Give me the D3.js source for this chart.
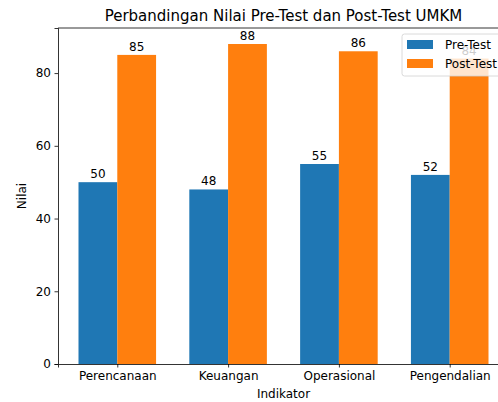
<!DOCTYPE html>
<html>
<head>
<meta charset="utf-8">
<script src="https://cdn.jsdelivr.net/npm/d3@7"></script>
<style>
  body { margin: 0; background: #fff; }
  svg { display: block; font-family: "DejaVu Sans", sans-serif; }
</style>
</head>
<body>
<div id="chart"></div>
<script>
const categories = ["Perencanaan", "Keuangan", "Operasional", "Pengendalian"];
const preTest = [50, 48, 55, 52];
const postTest = [85, 88, 86, 84];
const yTicks = [0, 20, 40, 60, 80];
const seriesNames = ["Pre-Test", "Post-Test"];
const colors = ["#1f77b4", "#ff7f0e"];

const W = 498, H = 402;
const margin = {top: 28, left: 58, bottom: 38};
const barW = 0.35;
const fs = 12;

const svg = d3.select("#chart").append("svg")
  .attr("width", W).attr("height", H);

// SCALES
const x = d3.scaleLinear().domain([-0.535, 3.535]).range([margin.left, 509]);
const y = d3.scaleLinear().domain([0, 92.4]).range([H - margin.bottom, margin.top]);

const plot = svg.append("g");

const series = [preTest, postTest];
series.forEach((vals, s) => {
  const off = s === 0 ? -barW : 0;
  plot.selectAll(".bar" + s).data(vals).enter().append("rect")
    .attr("x", (d, i) => x(i + off))
    .attr("width", x(barW) - x(0))
    .attr("y", d => y(d))
    .attr("height", d => y(0) - y(d))
    .attr("fill", colors[s]);

  plot.selectAll(".lbl" + s).data(vals).enter().append("text")
    .attr("x", (d, i) => x(i + off + barW / 2))
    .attr("y", d => y(d) - 4)
    .attr("text-anchor", "middle")
    .attr("font-size", fs)
    .attr("fill", "#000")
    .text(d => d);
});

// AXES
const yAxis = d3.axisLeft(y).tickValues(yTicks).tickSize(3.5).tickPadding(3.5);
svg.append("g")
  .attr("transform", "translate(" + margin.left + ",0)")
  .call(yAxis)
  .call(g => g.selectAll("text").attr("font-size", fs).attr("fill", "#000").attr("font-family", "DejaVu Sans"))
  .call(g => g.selectAll("line,path").attr("stroke", "#000").attr("stroke-width", 0.8));

const xAxis = d3.axisBottom(x).tickValues(d3.range(categories.length))
  .tickFormat(i => categories[i]).tickSize(3.5).tickPadding(3.5);
svg.append("g")
  .attr("transform", "translate(0," + y(0) + ")")
  .call(xAxis)
  .call(g => g.selectAll("text").attr("font-size", fs).attr("fill", "#000").attr("font-family", "DejaVu Sans"))
  .call(g => g.selectAll("line,path").attr("stroke", "#000").attr("stroke-width", 0.8));

// top spine
svg.append("line")
  .attr("x1", x.range()[0]).attr("x2", x.range()[1])
  .attr("y1", y.range()[1]).attr("y2", y.range()[1])
  .attr("stroke", "#000").attr("stroke-width", 0.8);

// TITLES
const cx = (x.range()[0] + x.range()[1]) / 2;
svg.append("text")
  .attr("x", cx).attr("y", 21)
  .attr("text-anchor", "middle").attr("font-size", 15)
  .text("Perbandingan Nilai Pre-Test dan Post-Test UMKM");

svg.append("text")
  .attr("x", cx).attr("y", 398)
  .attr("text-anchor", "middle").attr("font-size", fs)
  .text("Indikator");

svg.append("text")
  .attr("transform", "translate(26," + (y.range()[0] + y.range()[1]) / 2 + ") rotate(-90)")
  .attr("text-anchor", "middle").attr("font-size", fs)
  .text("Nilai");

// LEGEND
const legend = svg.append("g").attr("transform", "translate(402,34)");
legend.append("rect")
  .attr("width", 110).attr("height", 42).attr("rx", 2.5)
  .attr("fill", "#fff").attr("fill-opacity", 0.8)
  .attr("stroke", "#d0d0d0").attr("stroke-width", 0.8);
seriesNames.forEach((name, i) => {
  const row = legend.append("g").attr("transform", "translate(5," + (6 + i * 19) + ")");
  row.append("rect").attr("width", 26).attr("height", 9).attr("fill", colors[i]);
  row.append("text").attr("x", 38).attr("y", 9).attr("font-size", fs).text(name);
});
</script>
</body>
</html>
